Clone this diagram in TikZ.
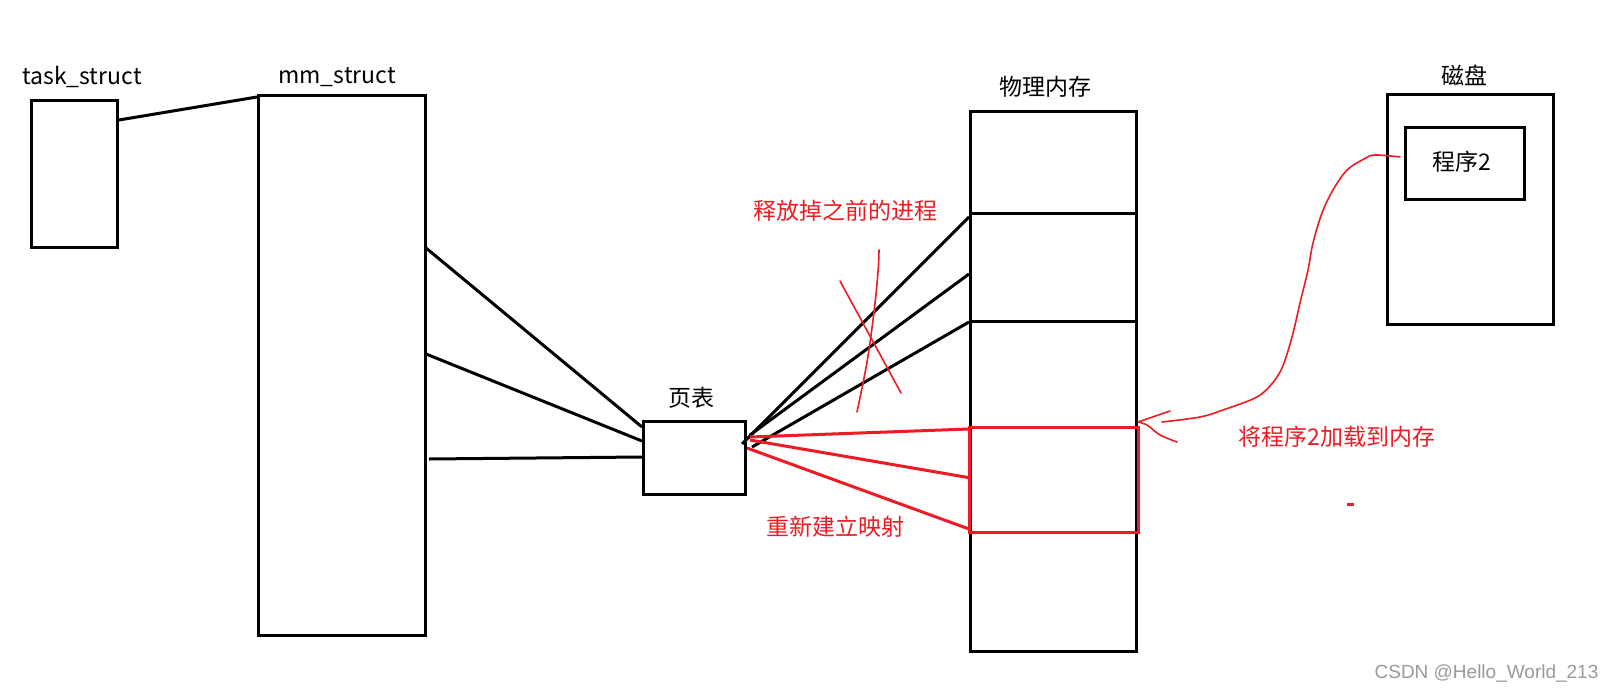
\documentclass[tikz,border=0pt]{standalone}
\usepackage{fontspec}
\setmainfont{Noto Sans CJK SC}
\newfontfamily\wmfont{Liberation Sans}
\definecolor{pred}{HTML}{ED1C24}
\definecolor{wmgray}{HTML}{9A9A9A}
\begin{document}
\begin{tikzpicture}[x=1pt,y=-1pt,
  box/.style={draw=black,line width=3pt,inner sep=0pt,rectangle},
  blk/.style={draw=black,line width=3pt},
  rln/.style={draw=pred,line width=3pt},
  thinred/.style={draw=pred,line width=1.6pt,line cap=round,line join=round},
  lbl/.style={font=\fontsize{23}{27}\selectfont,inner sep=0pt},
  rlbl/.style={font=\fontsize{23}{27}\selectfont,text=pred,inner sep=0pt}]
\useasboundingbox (0,0) rectangle (1612,691);
\fill[white] (0,0) rectangle (1612,691);

% boxes
\node[box,minimum width=86pt,minimum height=147pt] (task) at (74.5,174) {};
\node[box,minimum width=167pt,minimum height=540pt] (mm) at (341.5,365.5) {};
\node[box,minimum width=102pt,minimum height=73pt] (pt) at (694.5,458) {};
\node[box,minimum width=166pt,minimum height=540pt] (mem) at (1053.5,381.5) {};
\node[box,minimum width=166pt,minimum height=230pt] (disk) at (1470.5,209.5) {};
\node[box,minimum width=119pt,minimum height=72pt] (prog) at (1465,163.5) {};

% labels
\node[lbl,anchor=base] (tasklbl) at (82,84) {task\_struct};
\node[lbl,anchor=base] (mmlbl) at (337,83) {mm\_struct};
\node[lbl] (ptlbl) at (691,398) {页表};
\node[lbl] (memlbl) at (1045,87) {物理内存};
\node[lbl] (disklbl) at (1464,75) {磁盘};
\node[lbl] (proglbl) at (1462,162) {程序2};
\node[rlbl] (rel) at (845,211) {释放掉之前的进程};
\node[rlbl] (remap) at (835.5,527) {重新建立映射};
\node[rlbl] (load) at (1337,437) {将程序2加载到内存};
\node[font=\wmfont\fontsize{19}{21}\selectfont,text=wmgray,inner sep=0pt] (wm) at (1486.5,673) {CSDN @Hello\_World\_213};

% memory dividers
\coordinate (d1l) at (969,213); \coordinate (d1r) at (1138,213);
\coordinate (d2l) at (969,321); \coordinate (d2r) at (1138,321);
\draw[blk] (d1l) -- (d1r);
\draw[blk] (d2l) -- (d2r);

% task -> mm
\coordinate (t1) at (119,120); \coordinate (m0) at (257,97);
\draw[blk] (t1) -- (m0);

% mm -> page table
\coordinate (m1) at (426,248); \coordinate (m2) at (426,354); \coordinate (m3) at (429,459);
\coordinate (p1) at (642,427); \coordinate (p2) at (642,441); \coordinate (p3) at (642,457);
\draw[blk] (m1) -- (p1);
\draw[blk] (m2) -- (p2);
\draw[blk] (m3) -- (p3);

% page table -> memory (old, black)
\coordinate (qa) at (742,444); \coordinate (qb) at (750,435); \coordinate (qc) at (752,447);
\coordinate (ma) at (969,217); \coordinate (mb) at (969,274); \coordinate (mc) at (969,322);
\draw[blk] (qa) -- (ma);
\draw[blk] (qb) -- (mb);
\draw[blk] (qc) -- (mc);

% red box in memory
\coordinate (rb1) at (969,427); \coordinate (rb2) at (1138,532);
\draw[rln] (rb1) rectangle (rb2);

% page table -> memory (new, red)
\coordinate (ra) at (750,437); \coordinate (rb) at (750,440); \coordinate (rc) at (747,448);
\coordinate (na) at (969,429); \coordinate (nb) at (971,478); \coordinate (nc) at (969,529);
\draw[rln] (ra) -- (na);
\draw[rln] (rb) -- (nb);
\draw[rln] (rc) -- (nc);

% red cross
\draw[thinred] (840,281) -- (901,393);
\draw[thinred] plot[smooth,tension=0.6] coordinates {(879,250) (878,272) (874,312) (867,362) (857,412)};

% red curve disk -> memory
\coordinate (cs) at (1400,157);
\coordinate (ce) at (1162,422);
\coordinate (tip) at (1138,422);
\draw[thinred] plot[smooth,tension=0.55] coordinates {(cs) (1375,155) (1364,159) (1347,170) (1333,190) (1322,213) (1313,243) (1308,270) (1300,303) (1292,337) (1282,368) (1270,386) (1255,398) (1223,410) (1200,417) (ce)};
\draw[thinred] (tip) -- (1170,411);
\draw[thinred] plot[smooth,tension=0.5] coordinates {(tip) (1147,425) (1160,435) (1177,442)};

% small red dash
\fill[pred] (1347,503) rectangle (1354,506);
\end{tikzpicture}
\end{document}
